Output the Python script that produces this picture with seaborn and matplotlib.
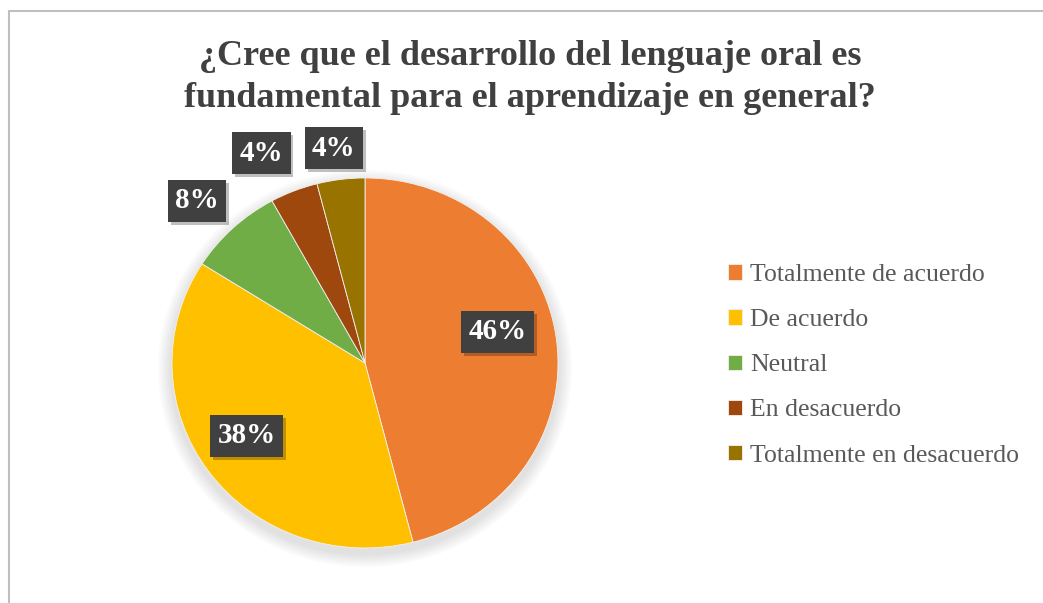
import matplotlib
matplotlib.use("Agg")
import matplotlib.pyplot as plt
import matplotlib.patheffects as pe
from matplotlib.patches import Ellipse
import numpy as np
import seaborn as sns

# data
categories = ["Totalmente de acuerdo", "De acuerdo", "Neutral",
              "En desacuerdo", "Totalmente en desacuerdo"]
percents = [46, 38, 8, 4, 4]
label_texts = ["46%", "38%", "8%", "4%", "4%"]
title = "¿Cree que el desarrollo del lenguaje oral es\nfundamental para el aprendizaje en general?"

# Excel-like theme colours
colors = sns.color_palette(["#ED7D31", "#FFC000", "#70AD47", "#9E480E", "#997300"])
label_dist = [0.708, 0.73, 1.234, 1.255, 1.173]
label_shift = [6.5, -3.3, 1.6, 3.7, 0.7]  # degrees, best-fit nudges

sns.set_theme(style="white")
plt.rcParams["font.family"] = ["Liberation Serif", "DejaVu Serif"]

fig = plt.figure(figsize=(10.43, 6.03), dpi=100)
fig.patch.set_facecolor("white")

# outer chart frame (top and left edges visible)
fig.add_artist(plt.Line2D([9 / 1043, 1.0], [1 - 11 / 603, 1 - 11 / 603],
                          transform=fig.transFigure, color="#bfbfbf", lw=1.5))
fig.add_artist(plt.Line2D([9 / 1043, 9 / 1043], [0, 1 - 11 / 603],
                          transform=fig.transFigure, color="#bfbfbf", lw=1.5))

# pie is slightly wider than tall in the reference (stretched screenshot)
ax = fig.add_axes([0.1094, -0.0008, 0.4811, 0.7977])

# soft shadow under pie
for i in range(6):
    ax.add_patch(Ellipse((0.0, -0.03), 2 * (1.0 + 0.012 * (i + 1)),
                         2 * (1.0 + 0.012 * (i + 1)), color="black",
                         alpha=0.018, lw=0, zorder=0))

wedges, _ = ax.pie(percents, colors=colors, startangle=90, counterclock=False,
                   radius=1.0, wedgeprops=dict(linewidth=0.6, edgecolor="#f2f2f2"),
                   frame=False)
ax.set_xlim(-1.3, 1.3)
ax.set_ylim(-1.3, 1.3)
ax.set_aspect("auto")
ax.axis("off")

for w, txt, d, s in zip(wedges, label_texts, label_dist, label_shift):
    ang = np.deg2rad((w.theta1 + w.theta2) / 2 + s)
    t = ax.text(d * np.cos(ang), d * np.sin(ang), txt, ha="center", va="center",
                fontsize=21, fontweight="bold", color="white", zorder=5,
                bbox=dict(boxstyle="square,pad=0.25", facecolor="#404040",
                          edgecolor="none"))
    t.get_bbox_patch().set_path_effects([
        pe.SimplePatchShadow(offset=(2, -2), shadow_rgbFace="black", alpha=0.25),
        pe.Normal()])

fig.text(0.508, 0.872, title, ha="center", va="center", fontsize=26,
         fontweight="bold", color="#404040", linespacing=1.35)

fig.legend(wedges, categories, loc="upper left", bbox_to_anchor=(0.698, 0.562),
           frameon=False, fontsize=18.5, labelcolor="#595959", handlelength=0.55,
           handleheight=0.55, handletextpad=0.3, labelspacing=0.9,
           borderaxespad=0.0, borderpad=0.0)

fig.savefig("out.png", dpi=100)
